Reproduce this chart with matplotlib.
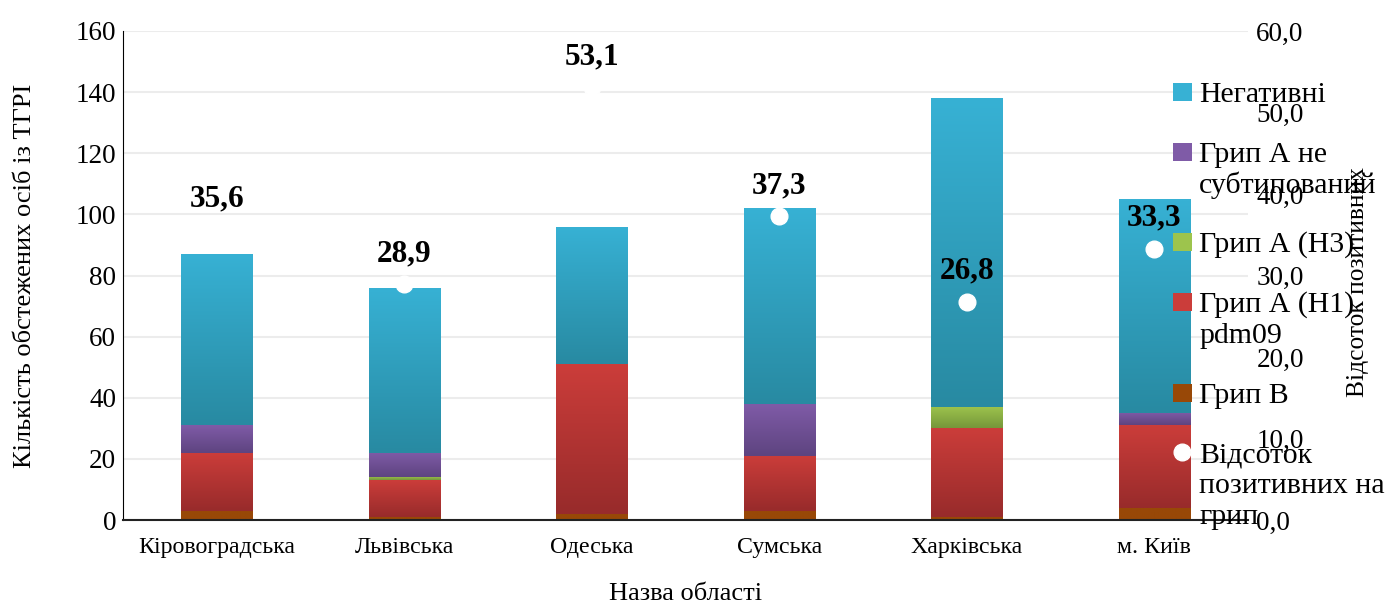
import numpy as np
import matplotlib
matplotlib.use("Agg")
import matplotlib.pyplot as plt
from matplotlib.patches import Rectangle
from matplotlib.lines import Line2D
from matplotlib.colors import to_rgb

plt.rcParams['font.family'] = ['Liberation Serif', 'DejaVu Serif']

# ---- data ----
regions = ['Кіровоградська', 'Львівська', 'Одеська', 'Сумська', 'Харківська', 'м. Київ']
flu_b = [3, 1, 2, 3, 1, 4]
flu_a_h1 = [19, 12, 49, 18, 29, 27]
flu_a_h3 = [0, 1, 0, 0, 7, 0]
flu_a_unsub = [9, 8, 0, 17, 0, 4]
negative = [56, 54, 45, 64, 101, 70]
pct_positive = [35.6, 28.9, 53.1, 37.3, 26.8, 33.3]

series = [
    ('Грип В', flu_b, ('#984807', '#984807')),
    ('Грип А (Н1)\npdm09', flu_a_h1, ('#cb3d3a', '#982b2b')),
    ('Грип А (Н3)', flu_a_h3, ('#9dc44d', '#76973a')),
    ('Грип А не\nсубтипований', flu_a_unsub, ('#7f5ba7', '#5e4480')),
    ('Негативні', negative, ('#37b1d4', '#288aa2')),
]
line_label = 'Відсоток\nпозитивних на\nгрип'

W, H = 1389, 604
fig = plt.figure(figsize=(W / 100, H / 100), dpi=100)
ax = fig.add_axes([123 / W, 1 - 520 / H, 1125 / W, 489 / H])

x = np.arange(len(regions))
bw = 0.38
bottom = np.zeros(len(regions))


def gradient_fill(ax, rect, top_c, bot_c):
    xx, yy = rect.get_x(), rect.get_y()
    w, h = rect.get_width(), rect.get_height()
    if h <= 0:
        return
    t = np.array(to_rgb(top_c)); b = np.array(to_rgb(bot_c))
    f = np.linspace(0, 1, 64)[:, None]
    grad = (t[None, :] * (1 - f) + b[None, :] * f)[:, None, :]
    im = ax.imshow(grad, extent=[xx, xx + w, yy, yy + h], origin='upper',
                   aspect='auto', zorder=2, interpolation='bilinear')
    im.set_clip_path(rect)


for name, vals, (ct, cb) in series:
    vals = np.array(vals, dtype=float)
    bars = ax.bar(x, vals, bw, bottom=bottom, color=ct, linewidth=0, zorder=2, label=name)
    for r in bars:
        gradient_fill(ax, r, ct, cb)
        r.set_facecolor('none')
    bottom += vals

ax.set_xlim(-0.5, len(regions) - 0.5)
ax.set_ylim(0, 160)
ax.set_yticks(np.arange(0, 161, 20))
ax.set_xticks(x)
ax.set_xticklabels(regions, fontsize=17.2)
ax.tick_params(axis='y', labelsize=19.5, length=0, pad=5)
ax.tick_params(axis='x', length=0, pad=12)
ax.grid(axis='y', color='#ececec', linewidth=1.5, zorder=0)
ax.set_axisbelow(True)
for s in ['top', 'right']:
    ax.spines[s].set_visible(False)
ax.spines['left'].set_color('black')
ax.spines['bottom'].set_color('#222222')
ax.spines['bottom'].set_linewidth(1.5)
ax.set_ylabel('Кількість обстежених осіб із ТГРІ', fontsize=19)
ax.yaxis.set_label_coords(-0.077, 0.5)
ax.set_xlabel('Назва області', fontsize=19, labelpad=18)

ax2 = ax.twinx()
ax2.set_ylim(0, 60)
ax2.set_yticks(np.arange(0, 61, 10))
ax2.set_yticklabels([f'{v:.1f}'.replace('.', ',') for v in np.arange(0, 61, 10)])
ax2.tick_params(axis='y', labelsize=19.5, length=0, pad=6)
for s in ['top', 'right', 'left', 'bottom']:
    ax2.spines[s].set_visible(False)
ax2.set_ylabel('Відсоток позитивних', fontsize=18.4)
ax2.yaxis.set_label_coords(1.088, 0.487)

ax2.plot(x, pct_positive, linestyle='none', marker='o', markersize=12,
         markerfacecolor='white', markeredgecolor='white', zorder=5)
for xi, p in zip(x, pct_positive):
    ax2.annotate(f'{p:.1f}'.replace('.', ','), (xi, p), xytext=(0, 22),
                 textcoords='offset points', ha='center', va='center',
                 fontsize=22.5, fontweight='bold', zorder=6)

# ---- legend (handle aligned with first line of each label) ----
entries = [(name, ct, 'bar') for name, vals, (ct, cb) in series[::-1]]
entries.append((line_label, 'white', 'line'))
first_line_y = [92, 152, 242, 302, 393, 452]
line_pitch = 31
for (name, col, kind), yc in zip(entries, first_line_y):
    yf = 1 - yc / H
    if kind == 'bar':
        fig.add_artist(Rectangle((1173 / W, yf - 9 / H), 19 / W, 18 / H,
                                 transform=fig.transFigure, facecolor=col,
                                 edgecolor='none', zorder=10))
    else:
        fig.add_artist(Line2D([1182 / W], [yf], transform=fig.transFigure,
                              linestyle='none', marker='o', markersize=12,
                              markerfacecolor='white', markeredgecolor='white',
                              zorder=10))
    for i, line in enumerate(name.split('\n')):
        fig.text(1199 / W, 1 - (yc + 10 + i * line_pitch) / H, line,
                 fontsize=21.5, ha='left', va='baseline', zorder=11)

fig.savefig('out.png', dpi=100)
